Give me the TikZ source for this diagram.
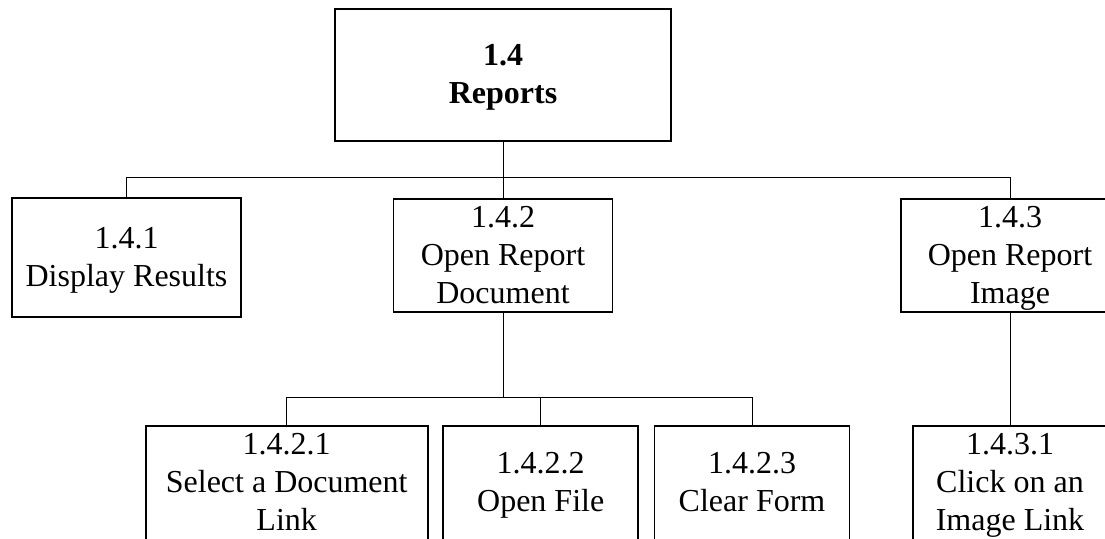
\documentclass[tikz,border=0pt]{standalone}
\usepackage{fontspec}
\setmainfont{Liberation Serif}
% fixed room above the first line and below the last one
\newcommand{\topgap}{\rule{0pt}{28pt}}
\newcommand{\botgap}{\rule[-9pt]{0pt}{9pt}}
\begin{document}
\begin{tikzpicture}[x=1pt,y=-1pt,
  box/.style={draw=black, line width=1.6pt, fill=white, rectangle, inner sep=0pt,
              align=center, font=\fontsize{32}{38}\selectfont},
  wire/.style={draw=black, line width=0.9pt}]
\useasboundingbox[fill=white] (0,0) rectangle (1105,538);

% root
\node[box, minimum width=336pt, minimum height=132pt] (root) at (503,75)
  {\topgap\textbf{1.4}\\\textbf{Reports}\botgap};

% second level
\node[box, minimum width=229pt, minimum height=119pt] (n141) at (126.5,257.5)
  {\topgap 1.4.1\\Display Results\botgap};
\node[box, minimum width=219pt, minimum height=113pt] (n142) at (503,255.5)
  {\topgap 1.4.2\\Open Report\\Document\botgap};
\node[box, minimum width=218pt, minimum height=113pt] (n143) at (1010,255.5)
  {\topgap 1.4.3\\Open Report\\Image\botgap};

% third level
\node[box, minimum width=282pt, minimum height=114pt] (n1421) at (286.7,483)
  {\topgap 1.4.2.1\\Select a Document\\Link\botgap};
\node[box, minimum width=195pt, minimum height=114pt] (n1422) at (540.7,483)
  {\topgap 1.4.2.2\\Open File\botgap};
\node[box, minimum width=195pt, minimum height=114pt] (n1423) at (752,483)
  {\topgap 1.4.2.3\\Clear Form\botgap};
\node[box, minimum width=194pt, minimum height=114pt] (n1431) at (1010,483)
  {\topgap 1.4.3.1\\Click on an\\Image Link\botgap};

% connectors
\coordinate (busA) at (503,177.7);
\coordinate (busB) at (503,397.7);
\draw[wire] (root.south) -- (busA);
\draw[wire] (busA) -| (n141.north);
\draw[wire] (busA) -| (n142.north);
\draw[wire] (busA) -| (n143.north);
\draw[wire] (n142.south) -- (busB);
\draw[wire] (busB) -| (n1421.north);
\draw[wire] (busB) -| (n1422.north);
\draw[wire] (busB) -| (n1423.north);
\draw[wire] (n143.south) -- (n1431.north);
\end{tikzpicture}
\end{document}
